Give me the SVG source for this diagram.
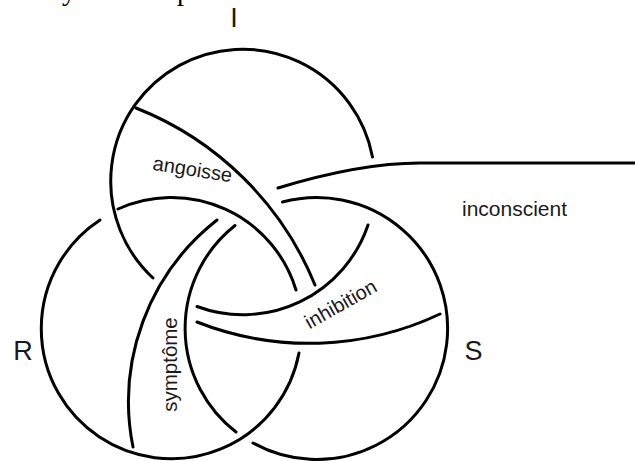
<svg xmlns="http://www.w3.org/2000/svg" width="635" height="461" viewBox="0 0 635 461">
  <style>
    .k { fill: none; stroke: #000; stroke-width: 3; stroke-linecap: round; }
    .lbl { font-family: "Liberation Sans", Arial, Helvetica, sans-serif; fill: #1a1a1a; }
    .big { font-size: 27px; }
    .fr { font-family: "Liberation Serif", "Times New Roman", serif; font-size: 28px; fill: #000; }
  </style>
  <rect width="635" height="461" fill="#fff"/>

  <g id="cut-caption">
    <text class="fr" x="62" y="0">y</text>
    <text class="fr" x="177" y="0">p</text>
  </g>

  <g id="ring-I">
    <path class="k" d="M372.5,157 A132,132 0 1 0 153,278"/>
    <path class="k" d="M197,306.5 A132,132 0 0 0 368,225"/>
    <text class="lbl big" x="234" y="27" text-anchor="middle">I</text>
  </g>

  <g id="ring-R">
    <path class="k" d="M100,220 A130,130 0 1 0 299,353"/>
    <path class="k" d="M118,209 A130,130 0 0 1 296,290"/>
    <text class="lbl big" x="23" y="360" text-anchor="middle">R</text>
  </g>

  <g id="ring-S">
    <path class="k" d="M282.5,202 A131,131 0 1 1 253,443"/>
    <path class="k" d="M235,225.5 A131,131 0 0 0 236,432"/>
    <text class="lbl big" x="473.5" y="360" text-anchor="middle">S</text>
  </g>

  <g id="connectors">
    <path id="angoisse-line" class="k" d="M136,108 A320,320 0 0 1 315,285"/>
    <path id="symptome-line" class="k" d="M217,220 A231,231 0 0 0 133,447"/>
    <path id="inhibition-line" class="k" d="M197,322 A306,306 0 0 0 440,314"/>
    <path id="inconscient-line" class="k" d="M278,188 Q360,163 420,163 L636,163"/>
  </g>

  <g id="field-angoisse">
    <text class="lbl" font-size="20" text-anchor="middle" transform="translate(191.5,176) rotate(8.9)">angoisse</text>
  </g>
  <g id="field-symptome">
    <text class="lbl" font-size="20.5" text-anchor="middle" transform="translate(177,364.5) rotate(-90)">symptôme</text>
  </g>
  <g id="field-inhibition">
    <text class="lbl" font-size="20" text-anchor="middle" transform="translate(344,310) rotate(-29.4)">inhibition</text>
  </g>
  <g id="field-inconscient">
    <text class="lbl" font-size="21" x="514.5" y="216" text-anchor="middle">inconscient</text>
  </g>
</svg>
